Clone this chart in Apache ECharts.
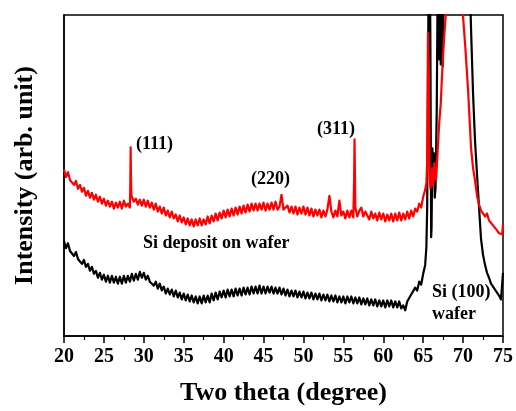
<!DOCTYPE html>
<html><head><meta charset="utf-8">
<script src="https://cdn.jsdelivr.net/npm/echarts@6/dist/echarts.min.js"></script>
<style>html,body{margin:0;padding:0;background:#fff}#c{width:516px;height:411px}</style>
</head><body><div id="c"></div>
<script>
// X tick labels
const xTicks = [20,25,30,35,40,45,50,55,60,65,70,75];
// Baseline grid: 20.00 .. 65.25 in 0.25 degree steps
const baseStart = 20, baseStep = 0.25;
// Red: Si deposit on wafer (arb. intensity)
const redBase = [
169,161,166,158, 160,153,157,149, 153,146,150,142, 147,140,145,138, 143,136,141,134,
139,132,137,131, 136,129,135,130, 136,129,137,131, 134,130,140,136, 139,133,138,132,
138,131,137,130, 135,128,134,126, 131,124,130,122, 127,120,126,119, 123,116,122,115,
120,113,119,112, 118,111,118,112, 119,112,118,113, 121,114,122,116, 124,117,125,119,
127,120,128,121, 129,122,130,123, 131,124,132,125, 133,126,134,127, 134,127,134,128,
135,127,134,128, 135,128,136,128, 131,143,128,126, 132,125,131,124, 131,123,130,124,
131,123,130,122, 129,121,128,122, 128,120,127,121, 128,142,126,120, 127,121,137,122,
126,119,127,120, 127,120,130,121, 127,130,121,126, 125,118,126,119, 124,117,125,118,
124,116,123,117, 124,116,124,117, 125,117,124,118, 126,119,127,121, 129,126,134,130,
141,148
];
const redExtra = [
[28.3,150],[28.35,191],[28.4,158],[28.45,142],
[56.35,160],[56.4,199],[56.45,165],
[65.4,155],[65.5,175],[65.6,307],[65.7,260],[65.8,165],[65.9,150],[66.0,158],[66.1,170],
[66.2,152],[66.3,160],[66.4,175],[66.5,165],[66.6,158],[66.7,170],[66.8,185],[66.9,200],
[67.0,215],[67.1,225],[67.2,235],[67.35,262],[67.5,285],[67.65,305],[67.8,322],[68.0,345],
[68.5,400],[69.0,450],[69.5,420],[70.0,323],[70.3,290],[70.64,247],[71.0,190],[71.25,170],
[71.5,157],[71.75,142],[72.0,133],[72.25,127],[72.5,126],[72.75,121],[73.0,124],[73.25,117],
[73.5,118],[73.75,112],[74.0,110],[74.25,107],[74.5,104],[74.75,102],[74.9,103],[75.0,113]
];
// Black: Si (100) wafer
const blackBase = [
96,89,94,86, 88,81,85,78, 80,73,77,70, 73,66,70,63, 66,59,64,57,
62,55,61,54, 61,54,60,53, 60,53,61,54, 61,55,63,56, 63,57,65,59,
64,57,61,55, 57,51,55,48, 53,46,50,43, 48,42,47,40, 46,39,44,37,
43,36,42,35, 41,34,40,33, 40,33,41,34, 41,34,43,36, 44,37,45,39,
46,39,47,40, 47,40,48,41, 48,41,49,42, 49,42,50,43, 50,43,51,43,
50,43,50,44, 50,43,49,43, 49,42,48,41, 47,40,46,40, 46,39,45,39,
45,38,44,38, 44,37,43,37, 43,36,42,36, 42,35,41,35, 41,34,40,34,
40,33,40,34, 40,33,39,33, 39,32,38,32, 38,31,37,31, 37,30,36,30,
36,29,36,30, 36,29,35,29, 35,28,31,26, 35,34,42,41, 49,46,55,52,
63,72
];
const blackExtra = [
[65.4,90],[65.5,130],[65.6,250],[65.7,400],[65.8,420],[65.9,300],[66.0,100],[66.05,110],
[66.15,190],[66.25,170],[66.35,185],[66.45,140],[66.55,150],[66.7,230],[66.8,340],[66.9,330],
[67.0,280],[67.1,360],[67.2,275],[67.3,350],[67.45,273],[67.6,380],[67.75,330],[67.9,450],
[68.5,600],[69.2,700],[70.0,600],[70.6,420],[70.9,340],[71.0,310],[71.25,245],[71.5,197],
[71.75,163],[72.0,130],[72.25,98],[72.5,82],[72.75,72],[73.0,64],[73.25,59],[73.5,53],
[73.75,50],[74.0,47],[74.25,44],[74.5,41],[74.75,37],[74.9,36],[75.0,64]
];

function build(base, extra){
  const pts = base.map((v,i)=>[baseStart + i*baseStep, v]).concat(extra);
  pts.sort((a,b)=>a[0]-b[0]);
  return pts;
}

const serif = '"Liberation Serif","Times New Roman",serif';
const chart = echarts.init(document.getElementById('c'), null, {renderer:'canvas'});
chart.setOption({
  animation:false,
  backgroundColor:'#fff',
  grid:{left:64,right:11,top:15,bottom:71,show:true,borderColor:'#000',borderWidth:1.5},
  xAxis:{
    type:'value',min:20,max:75,interval:5,
    name:'Two theta (degree)',nameLocation:'middle',nameGap:44,
    nameTextStyle:{fontFamily:serif,fontWeight:'bold',fontSize:26,color:'#000'},
    axisLine:{lineStyle:{color:'#000',width:1.5}},
    axisTick:{show:true,inside:false,length:7,lineStyle:{color:'#000',width:1.5}},
    minorTick:{show:true,splitNumber:2,length:4,lineStyle:{color:'#000',width:1.2}},
    axisLabel:{margin:11,fontFamily:serif,fontWeight:'bold',fontSize:20,color:'#000',
      formatter:v=>xTicks.includes(v)?String(v):''},
    splitLine:{show:false}
  },
  yAxis:{
    type:'value',min:0,max:325,
    name:'Intensity (arb. unit)',nameLocation:'middle',nameGap:26,
    nameTextStyle:{fontFamily:serif,fontWeight:'bold',fontSize:26,color:'#000'},
    axisLine:{show:true,lineStyle:{color:'#000',width:1.5}},
    axisTick:{show:false},axisLabel:{show:false},splitLine:{show:false}
  },
  series:[
    {type:'line',name:'Si (100) wafer',data:build(blackBase,blackExtra),symbol:'none',
      lineStyle:{color:'#000',width:2.2,join:'round'},clip:true,sampling:null},
    {type:'line',name:'Si deposit on wafer',data:build(redBase,redExtra),symbol:'none',
      lineStyle:{color:'#ff0000',width:2.2,join:'round'},clip:true,sampling:null}
  ],
  graphic:[
    {type:'text',x:136,y:144,style:{text:'(111)',font:'bold 18px '+serif,fill:'#000',verticalAlign:'middle',align:'left'}},
    {type:'text',x:251,y:179,style:{text:'(220)',font:'bold 18px '+serif,fill:'#000',verticalAlign:'middle',align:'left'}},
    {type:'text',x:317,y:129,style:{text:'(311)',font:'bold 18px '+serif,fill:'#000',verticalAlign:'middle',align:'left'}},
    {type:'text',x:143,y:243,style:{text:'Si deposit on wafer',font:'bold 18px '+serif,fill:'#000',verticalAlign:'middle',align:'left'}},
    {type:'text',x:432,y:292,style:{text:'Si (100)',font:'bold 18px '+serif,fill:'#000',verticalAlign:'middle',align:'left'}},
    {type:'text',x:432,y:314,style:{text:'wafer',font:'bold 18px '+serif,fill:'#000',verticalAlign:'middle',align:'left'}}
  ]
});
</script>
</body></html>
